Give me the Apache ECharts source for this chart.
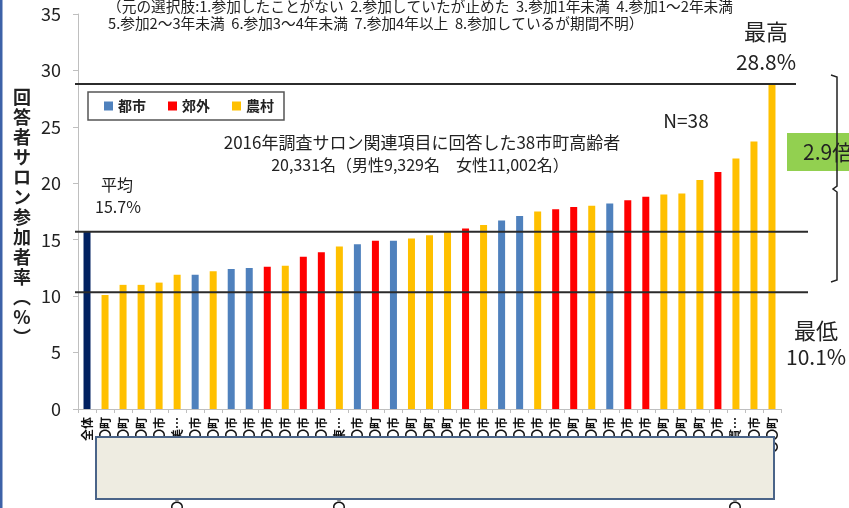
<!DOCTYPE html>
<html>
<head>
<meta charset="utf-8">
<script src="https://cdn.jsdelivr.net/npm/echarts@6/dist/echarts.min.js"></script>
<style>
html,body{margin:0;padding:0;background:#fff;}
#chart{width:849px;height:508px;}
</style>
</head>
<body>
<div id="chart"></div>
<script>
// ---- data ----
const categories = ['全体',
  '〇〇町','〇〇町','〇〇町','〇〇市','〇〇〇〇〇〇美…','〇〇市','〇〇町','〇〇市','〇〇市','〇〇市',
  '〇〇市','〇〇市','〇〇市','〇〇〇〇〇〇東…','〇〇市','〇〇町','〇〇市','〇〇町','〇〇町','〇〇町',
  '〇〇市','〇〇市','〇〇市','〇〇市','〇〇市','〇〇市','〇〇町','〇〇町','〇〇市','〇〇市',
  '〇〇市','〇〇町','〇〇町','〇〇町','〇〇市','〇〇〇〇〇〇貫…','〇〇市','〇〇町'];
const areaTypes = ['全体',
  '農村','農村','農村','農村','農村','都市','農村','都市','都市','郊外',
  '農村','郊外','郊外','農村','都市','郊外','都市','農村','農村','農村',
  '郊外','農村','都市','都市','農村','郊外','郊外','農村','都市','郊外',
  '郊外','農村','農村','農村','郊外','農村','農村','農村'];
const rates = [15.7,
  10.1,11.0,11.0,11.2,11.9,11.9,12.2,12.4,12.5,12.6,
  12.7,13.5,13.9,14.4,14.6,14.9,14.9,15.1,15.4,15.7,
  16.0,16.3,16.7,17.1,17.5,17.7,17.9,18.0,18.2,18.5,
  18.8,19.0,19.1,20.3,21.0,22.2,23.7,28.8];
const seriesNames = ['全体','都市','郊外','農村'];
const legendNames = ['都市','郊外','農村'];
const yTicks = [0,5,10,15,20,25,30,35];
const refLines = [28.8, 15.7, 10.35];   // max, average, min reference lines as drawn

const FONT = 'Noto Sans CJK JP';
const colors = {'全体':'#002060','都市':'#4F81BD','郊外':'#FF0000','農村':'#FFC000'};

const chart = echarts.init(document.getElementById('chart'), null, {renderer:'canvas'});

const series = seriesNames.map(name => ({
  name: name,
  type: 'bar',
  barWidth: 7,
  barGap: '-100%',
  itemStyle: {color: colors[name]},
  data: rates.map((v, i) => areaTypes[i] === name ? v : '-'),
  animation: false
}));

chart.setOption({
  animation: false,
  textStyle: {fontFamily: FONT},
  grid: {left: 78, right: 68, top: 14, bottom: 99, containLabel: false, outerBoundsMode: 'none'},
  legend: {
    data: legendNames,
    left: 88, top: 92,
    icon: 'rect', itemWidth: 9, itemHeight: 9, itemGap: 22,
    padding: [7, 10, 7, 16],
    borderColor: '#555', borderWidth: 1.5,
    textStyle: {fontFamily: FONT, fontSize: 14, fontWeight: 'bold', color: '#222'},
    selectedMode: false
  },
  xAxis: {
    type: 'category',
    data: categories,
    axisLine: {lineStyle: {color: '#bfbfbf', width: 1}},
    axisTick: {show: true, length: 4, lineStyle: {color: '#bfbfbf'}},
    axisLabel: {interval: 0, rotate: 90, margin: 8, fontSize: 12, fontWeight: 'bold', color: '#111', fontFamily: FONT}
  },
  yAxis: {
    type: 'value',
    min: yTicks[0], max: yTicks[yTicks.length - 1], interval: 5,
    axisLine: {show: true, lineStyle: {color: '#bfbfbf'}},
    axisTick: {show: true, length: 5, lineStyle: {color: '#bfbfbf'}},
    splitLine: {show: false},
    axisLabel: {margin: 17, fontSize: 18, color: '#222', fontFamily: FONT}
  },
  series: series
});

// reference lines, positioned through the y axis scale
const lineEnds = [796, 808, 808];
const refGraphics = refLines.map((v, i) => {
  const y = chart.convertToPixel({yAxisIndex: 0}, v);
  return {type: 'line', shape: {x1: 75, y1: y, x2: lineEnds[i], y2: y},
          style: {stroke: '#2b2b2b', lineWidth: 2}, z: 10};
});

const yTitle = ['回','答','者','サ','ロ','ン','参','加','者','率','︵','%','︶'].join('\n');

function txt(text, x, y, size, opts) {
  return {
    type: 'text', x: x, y: y, z: 20,
    style: Object.assign({text: text, fill: '#222', font: size + 'px "' + FONT + '"',
      align: 'center', verticalAlign: 'middle'}, (opts || {}))
  };
}

chart.setOption({
  graphic: [
    {type: 'rect', shape: {x: 0, y: 0, width: 2.5, height: 508}, style: {fill: '#3D62A8'}, z: 30},
    txt('（元の選択肢:1.参加したことがない  2.参加していたが止めた  3.参加1年未満  4.参加1～2年未満', 107, 6, 14.7, {align: 'left'}),
    txt('5.参加2～3年未満  6.参加3～4年未満  7.参加4年以上  8.参加しているが期間不明）', 108, 23, 14.7, {align: 'left'}),
    {type: 'text', x: 22, y: 87, z: 20,
     style: {text: yTitle, fill: '#222', font: 'bold 18px "' + FONT + '"', align: 'center', verticalAlign: 'top', lineHeight: 20}},
    txt('2016年調査サロン関連項目に回答した38市町高齢者', 422, 143, 17),
    txt('20,331名（男性9,329名　女性11,002名）', 420, 165, 16),
    txt('N=38', 686, 121, 19),
    txt('平均', 117, 185, 16),
    txt('15.7%', 118, 207, 16),
    txt('最高', 766, 32, 22),
    txt('28.8%', 766, 62, 21),
    txt('最低', 816, 331, 22),
    txt('10.1%', 786, 357, 21, {align: 'left'}),
    {type: 'rect', shape: {x: 787, y: 133, width: 70, height: 38}, style: {fill: '#92D050'}, z: 15},
    txt('2.9倍', 803, 152, 21, {align: 'left'}),
    {type: 'polyline', z: 15,
     shape: {points: [[831, 75], [837, 77], [837, 186], [833, 189], [837, 192], [837, 280], [831, 282]]},
     style: {stroke: '#222', lineWidth: 1.5, fill: null}},
    {type: 'rect', shape: {x: 96, y: 437, width: 678, height: 62},
     style: {fill: '#EEECE1', stroke: '#4A6488', lineWidth: 2}, z: 25}
  ].concat(refGraphics)
});
</script>
</body>
</html>
